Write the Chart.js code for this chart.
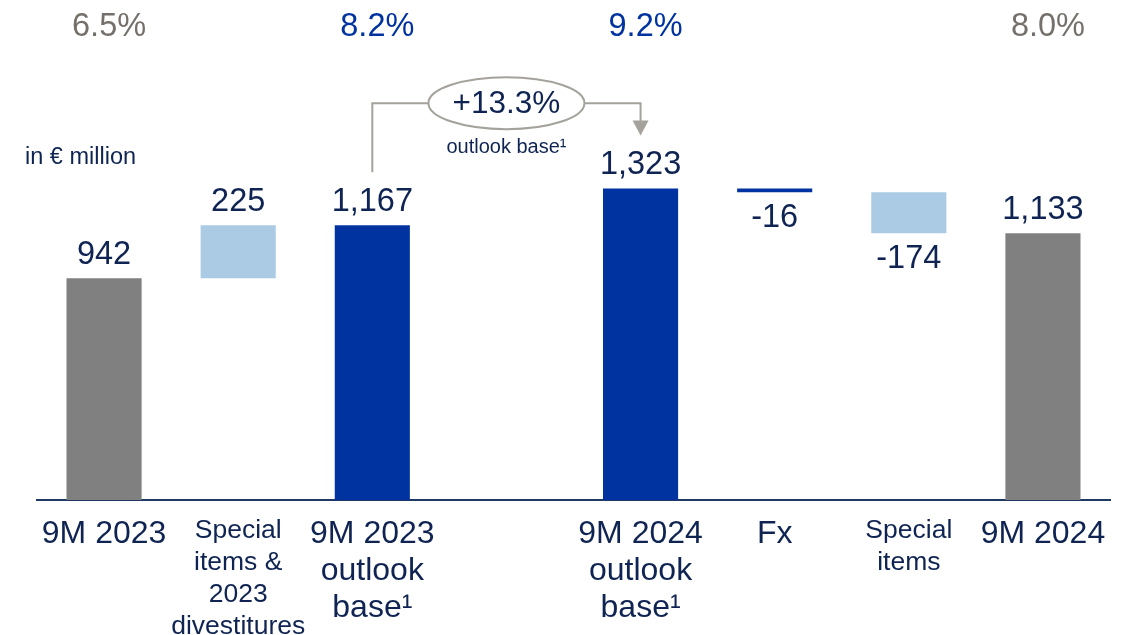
<!DOCTYPE html>
<html>
<head>
<meta charset="utf-8">
<script src="https://cdn.jsdelivr.net/npm/chart.js@4.4.0/dist/chart.umd.min.js"></script>
<style>
  html, body { margin: 0; padding: 0; background: #fff; }
  #wrap { width: 1129px; height: 635px; position: relative; }
</style>
</head>
<body>
<div id="wrap"><canvas id="bridge"></canvas></div>
<script>
// categories (slot 3 is an empty gap in the reference)
var categories = [
  ['9M 2023'],
  ['Special', 'items &', '2023', 'divestitures'],
  ['9M 2023', 'outlook', 'base¹'],
  '',
  ['9M 2024', 'outlook', 'base¹'],
  ['Fx'],
  ['Special', 'items'],
  ['9M 2024']
];
var amounts = [942, 225, 1167, null, 1323, -16, -174, 1133];
var isTotal = [true, false, true, false, true, false, false, true];
var valueLabels = ['942', '225', '1,167', '', '1,323', '-16', '-174', '1,133'];
var margins = ['6.5%', '', '8.2%', '', '9.2%', '', '', '8.0%'];
var growthLabel = '+13.3%';
var growthNote = 'outlook base¹';

var NAVY = '#0f2452', BLUE = '#0033a0', LIGHT = '#abcbe4', GREY = '#808080';
var FONT = '"Liberation Sans", Arial, sans-serif';

// build waterfall ranges from the amounts
var ranges = [], colors = [], running = 0;
amounts.forEach(function(v, i) {
  if (v === null) { ranges.push(null); colors.push('transparent'); return; }
  if (isTotal[i]) {
    ranges.push([0, v]);
    running = v;
    colors.push(i === 0 || i === amounts.length - 1 ? GREY : BLUE);
  } else {
    ranges.push([running, running + v]);
    running += v;
    colors.push(i === 5 ? BLUE : LIGHT);
  }
});

var labelPlugin = {
  id: 'bridgeLabels',
  afterDatasetsDraw: function(chart) {
    var ctx = chart.ctx;
    var meta = chart.getDatasetMeta(0);
    var xs = chart.scales.x, ys = chart.scales.y;
    ctx.save();
    ctx.textAlign = 'center';
    ctx.textBaseline = 'middle';

    // value labels
    ctx.font = '32.5px ' + FONT;
    ctx.fillStyle = NAVY;
    meta.data.forEach(function(bar, i) {
      if (!valueLabels[i]) return;
      var top = Math.min(bar.y, bar.base), bottom = Math.max(bar.y, bar.base);
      if (amounts[i] < 0) ctx.fillText(valueLabels[i], bar.x, bottom + 26);
      else ctx.fillText(valueLabels[i], bar.x, top - 23);
    });

    // margin row on top
    margins.forEach(function(m, i) {
      if (!m) return;
      ctx.fillStyle = (i === 2 || i === 4) ? BLUE : '#75716a';
      ctx.fillText(m, xs.getPixelForValue(i) + 5, 27);
    });

    // unit
    ctx.textAlign = 'left';
    ctx.fillStyle = NAVY;
    ctx.font = '23.5px ' + FONT;
    ctx.fillText('in € million', 25, 158);

    // growth connector between the two outlook bases
    var b1 = meta.data[2], b2 = meta.data[4];
    var x1 = b1.x, x2 = b2.x, xm = xs.getPixelForValue(3);
    var yLine = ys.getPixelForValue(1685);
    var rx = 78, ry = 26;
    ctx.strokeStyle = '#a5a29b';
    ctx.fillStyle = '#a5a29b';
    ctx.lineWidth = 2;
    ctx.beginPath();
    ctx.moveTo(x1, b1.y - 53);
    ctx.lineTo(x1, yLine);
    ctx.lineTo(xm - rx, yLine);
    ctx.moveTo(xm + rx, yLine);
    ctx.lineTo(x2, yLine);
    ctx.lineTo(x2, b2.y - 66);
    ctx.stroke();
    ctx.beginPath();
    ctx.moveTo(x2 - 8, b2.y - 68);
    ctx.lineTo(x2 + 8, b2.y - 68);
    ctx.lineTo(x2, b2.y - 53);
    ctx.closePath();
    ctx.fill();
    ctx.beginPath();
    ctx.ellipse(xm, yLine, rx, ry, 0, 0, Math.PI * 2);
    ctx.fillStyle = '#fff';
    ctx.fill();
    ctx.stroke();

    ctx.textAlign = 'center';
    ctx.fillStyle = NAVY;
    ctx.font = '31.5px ' + FONT;
    ctx.fillText(growthLabel, xm, yLine + 1);
    ctx.font = '20px ' + FONT;
    ctx.fillText(growthNote, xm, yLine + 44);
    ctx.restore();
  }
};

new Chart(document.getElementById('bridge'), {
  type: 'bar',
  data: {
    labels: categories,
    datasets: [{
      data: ranges,
      backgroundColor: colors,
      borderWidth: 0,
      barPercentage: 0.56,
      categoryPercentage: 1
    }]
  },
  options: {
    responsive: true,
    maintainAspectRatio: false,
    animation: false,
    layout: { padding: { left: 37, right: 19, top: 29, bottom: 0 } },
    plugins: { legend: { display: false }, tooltip: { enabled: false } },
    scales: {
      x: {
        grid: { display: false },
        border: { display: true, color: '#1f3864', width: 2 },
        ticks: {
          autoSkip: false,
          maxRotation: 0,
          padding: 7,
          color: NAVY,
          font: function(c) {
            var small = c.index === 1 || c.index === 6;
            return { family: FONT, size: small ? 26.5 : 32, lineHeight: small ? 1.2 : 1.17 };
          }
        },
        afterFit: function(s) { s.height = 135; }
      },
      y: { display: false, min: 0, max: 2000 }
    }
  },
  plugins: [labelPlugin]
});
</script>
</body>
</html>
